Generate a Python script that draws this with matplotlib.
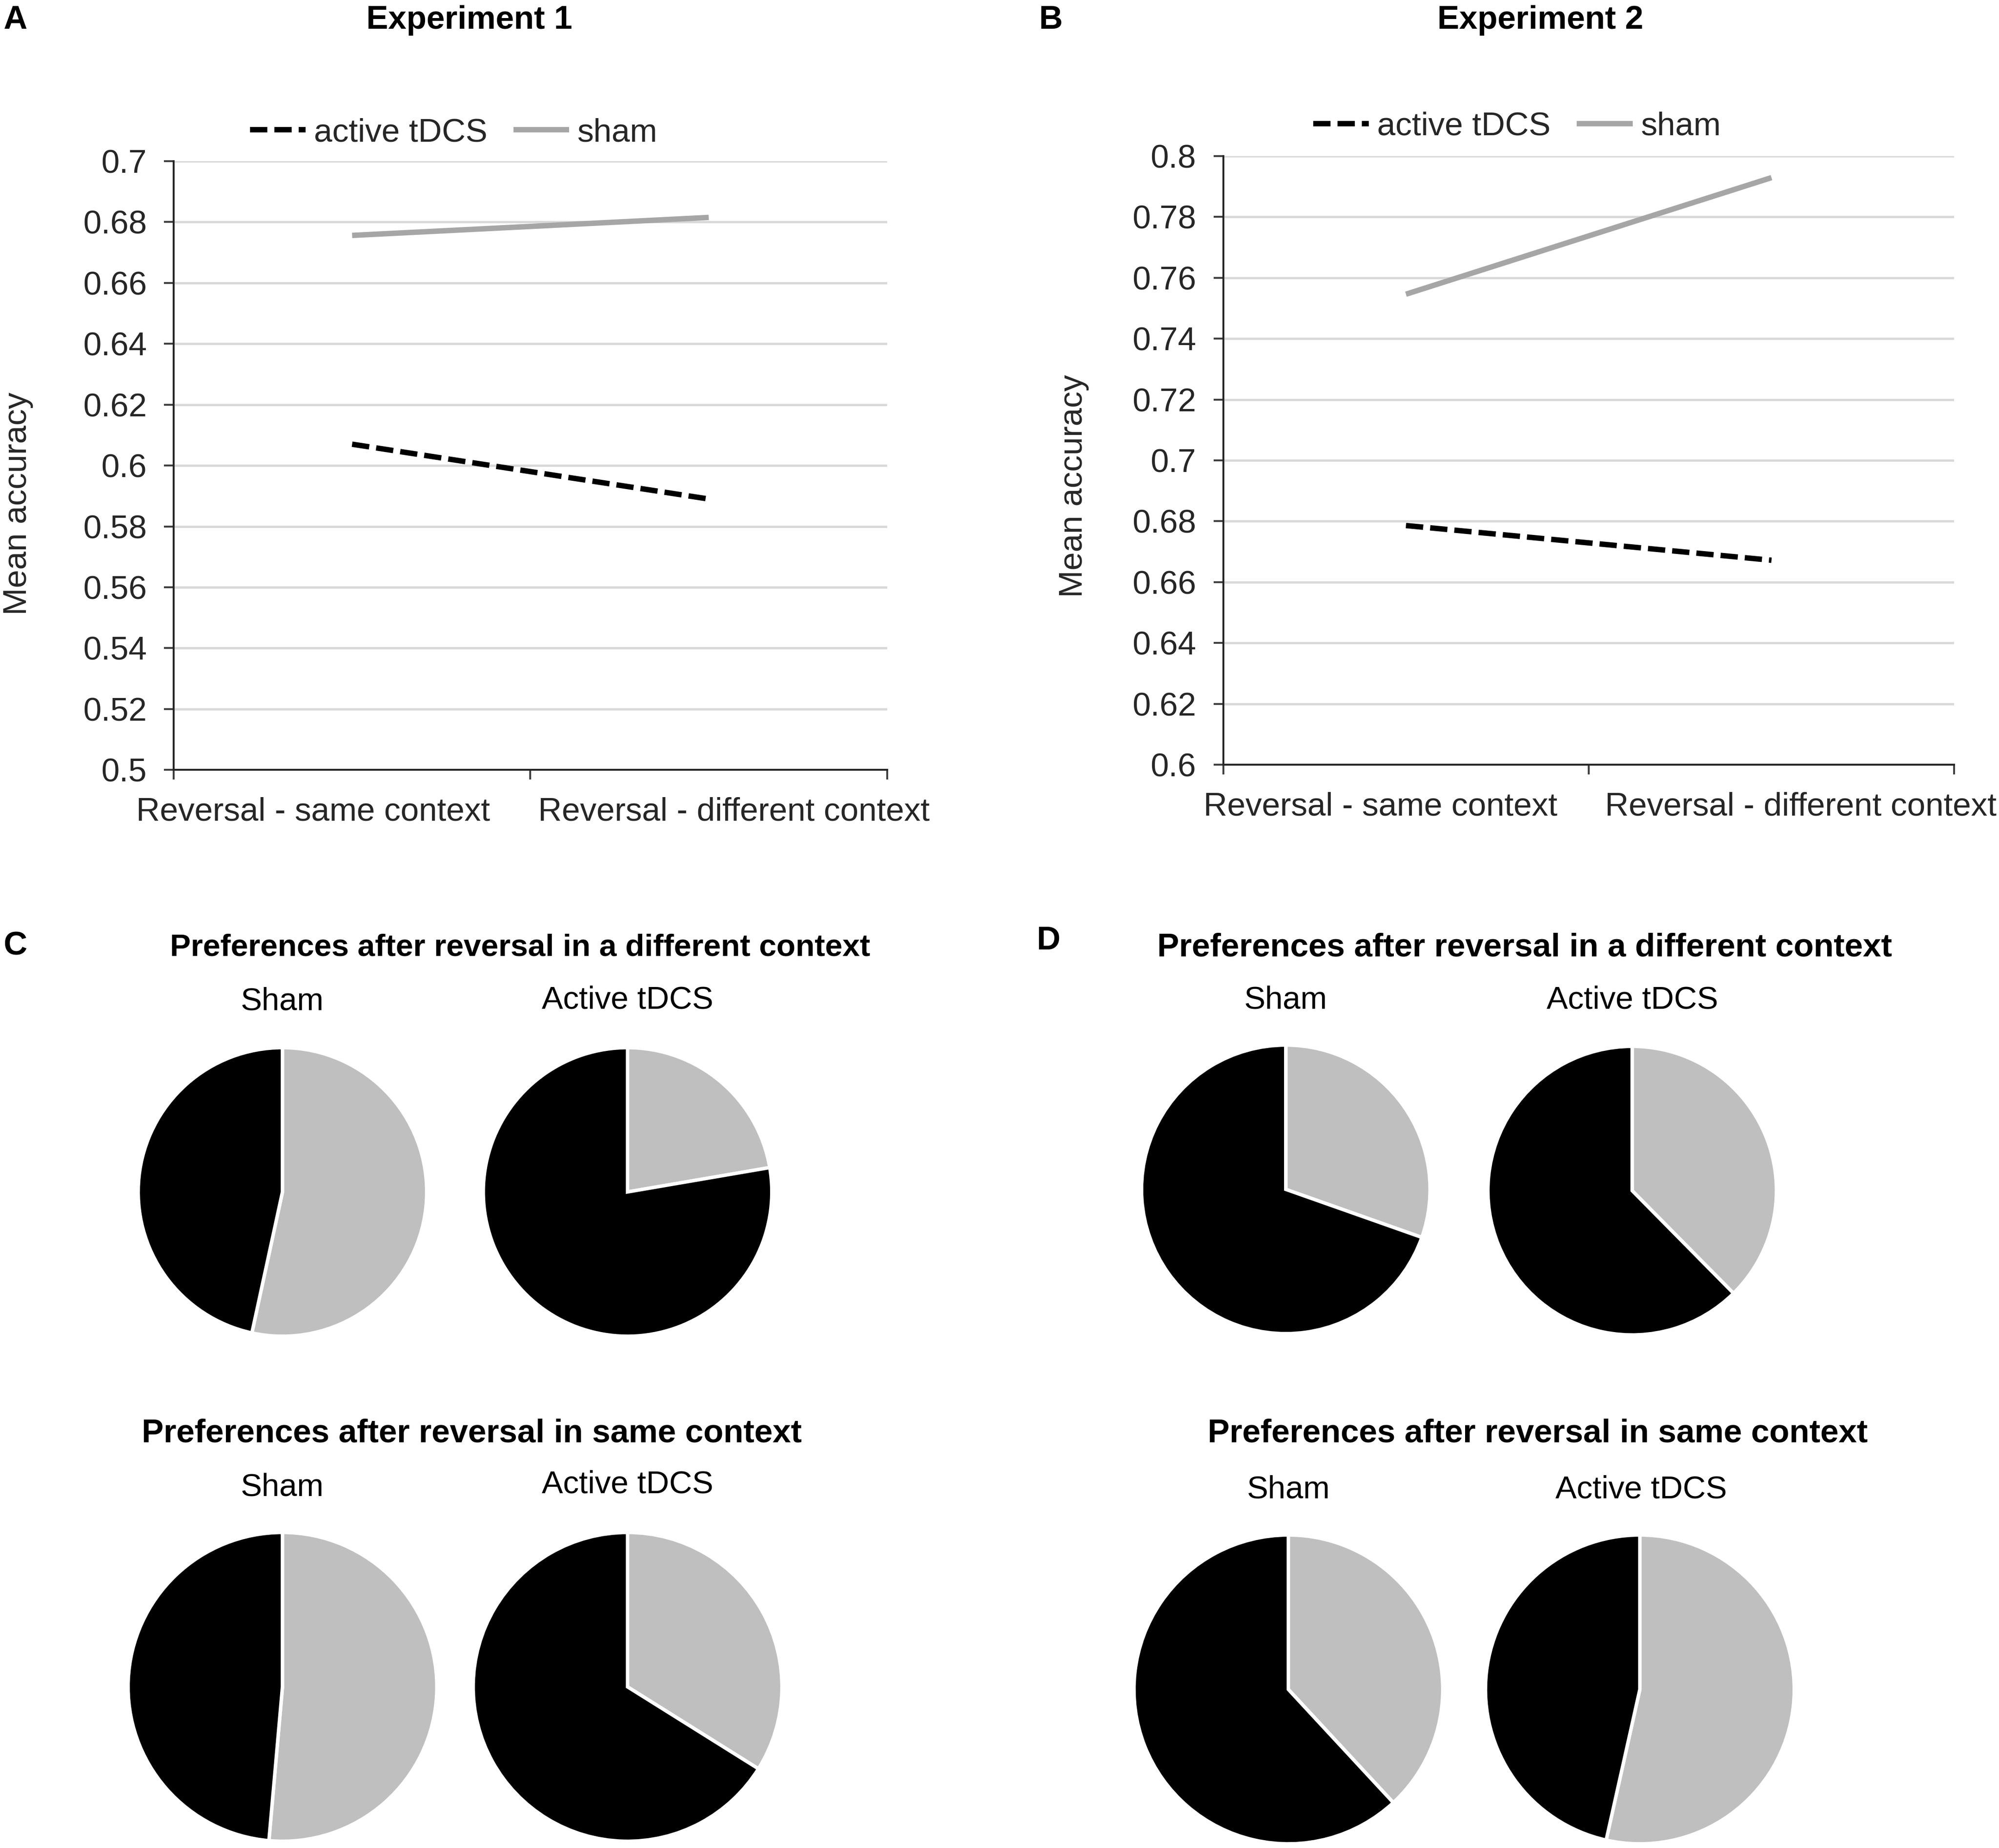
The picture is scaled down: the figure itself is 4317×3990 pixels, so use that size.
import matplotlib
matplotlib.use("Agg")
import matplotlib.pyplot as plt

plt.rcParams['font.family'] = ['Liberation Sans', 'DejaVu Sans']

# ---- line charts (panels A and B) ----
conditions = ["Reversal - same context", "Reversal - different context"]
exp1_active = [0.607, 0.589]
exp1_sham = [0.6756, 0.6815]
exp2_active = [0.6786, 0.6672]
exp2_sham = [0.7546, 0.7929]
exp1_yticks = [0.5, 0.52, 0.54, 0.56, 0.58, 0.6, 0.62, 0.64, 0.66, 0.68, 0.7]
exp2_yticks = [0.6, 0.62, 0.64, 0.66, 0.68, 0.7, 0.72, 0.74, 0.76, 0.78, 0.8]

# ---- pie charts (panels C and D): share of gray / black responses ----
pie_groups = ["Sham", "Active tDCS"]
exp1_diff_gray = [0.534, 0.223]
exp1_same_gray = [0.514, 0.339]
exp2_diff_gray = [0.304, 0.376]
exp2_same_gray = [0.381, 0.535]

GRAY = '#bfbfbf'
LINE_GRAY = '#a6a6a6'

W, H = 1564.0, 1445.0  # layout grid of the reference (scaled)


def fx(x):
    return x / W


def fy(y):
    return 1 - y / H


fig = plt.figure(figsize=(4317 / 300, 3990 / 300), dpi=300)


def line_panel(box, active, sham, yticks, legend_xy, ylabel_x, ylabel_y, lab_pos):
    left, top, right, bottom = box
    ax = fig.add_axes([fx(left), fy(bottom), (right - left) / W, (bottom - top) / H])
    x = list(range(len(conditions)))
    ax.plot(x, active, color='black', lw=2.8, dashes=(3.2, 1.3), label='active tDCS',
            solid_capstyle='butt', dash_capstyle='butt')
    ax.plot(x, sham, color=LINE_GRAY, lw=2.8, label='sham', solid_capstyle='butt')
    ax.set_xlim(-0.5, 1.5)
    ax.set_ylim(yticks[0], yticks[-1])
    ax.set_yticks(yticks)
    ax.set_yticklabels([f"{t:g}" for t in yticks])
    ax.yaxis.grid(True, color='#d9d9d9', lw=1.2)
    ax.set_axisbelow(True)
    ax.set_xticks([-0.5, 0.5, 1.5])
    ax.set_xticklabels([])
    ax.set_xticks(lab_pos, minor=True)
    ax.set_xticklabels(conditions, minor=True)
    ax.tick_params(axis='x', which='major', length=5, width=1.0, color='#404040')
    ax.tick_params(axis='x', which='minor', length=0, pad=14, labelsize=17, labelcolor='#262626')
    ax.tick_params(axis='y', length=5, width=1.0, color='#404040', pad=9,
                   labelsize=17, labelcolor='#262626')
    for s in ['top', 'right']:
        ax.spines[s].set_visible(False)
    for s in ['left', 'bottom']:
        ax.spines[s].set_color('#262626')
        ax.spines[s].set_linewidth(1.0)
    fig.text(fx(ylabel_x), fy(ylabel_y), 'Mean accuracy', rotation=90, ha='center',
             va='center', fontsize=17, color='#262626')
    ax.legend(loc='center', bbox_to_anchor=(fx(legend_xy[0]), fy(legend_xy[1])),
              bbox_transform=fig.transFigure, ncol=2, frameon=False, fontsize=17,
              handlelength=1.7, handletextpad=0.25, columnspacing=0.8, labelcolor='#262626')
    return ax


line_panel((136, 126, 694, 602), exp1_active, exp1_sham, exp1_yticks,
           (355, 104), 14, 394, [-0.11, 1.07])
line_panel((957, 122, 1529, 598), exp2_active, exp2_sham, exp2_yticks,
           (1187, 99), 840, 380, [-0.07, 1.08])

fig.text(fx(367), fy(16), 'Experiment 1', ha='center', va='center', fontsize=17, fontweight='bold')
fig.text(fx(1205), fy(16), 'Experiment 2', ha='center', va='center', fontsize=17, fontweight='bold')

for letter, (px, py) in zip("ABCD", [(12, 16), (822, 16), (12, 740), (820, 736)]):
    fig.text(fx(px), fy(py), letter, ha='center', va='center', fontsize=17, fontweight='bold')


def pie(cx, cy, r, gray_share):
    ax = fig.add_axes([fx(cx - r), fy(cy + r), 2 * r / W, 2 * r / H])
    ax.pie([gray_share, 1 - gray_share], colors=[GRAY, 'black'], startangle=90,
           counterclock=False, radius=1,
           wedgeprops=dict(edgecolor='white', linewidth=1.8))
    ax.set_xlim(-1.01, 1.01)
    ax.set_ylim(-1.01, 1.01)
    ax.set_aspect('equal')
    ax.axis('off')


# heading, heading size, heading centre, group label centres, pie centres/radii, shares
blocks = [
    ("Preferences after reversal in a different context", 16.2, (407, 741),
     [(221, 783), (491, 782)], [(221, 932, 114), (491, 932, 114)], exp1_diff_gray),
    ("Preferences after reversal in same context", 17, (369, 1121),
     [(221, 1163), (491, 1161)], [(221, 1319, 122), (491, 1319, 122)], exp1_same_gray),
    ("Preferences after reversal in a different context", 17, (1193, 741),
     [(1006, 782), (1277, 782)], [(1006, 930, 114), (1277, 931, 114)], exp2_diff_gray),
    ("Preferences after reversal in same context", 17, (1203, 1121),
     [(1008, 1165), (1284, 1165)], [(1008, 1321, 122), (1283, 1321, 122)], exp2_same_gray),
]

for heading, hsize, (hx, hy), labs, pies, shares in blocks:
    fig.text(fx(hx), fy(hy), heading, ha='center', va='center', fontsize=hsize, fontweight='bold')
    for name, (lx, ly) in zip(pie_groups, labs):
        fig.text(fx(lx), fy(ly), name, ha='center', va='center', fontsize=16.5)
    for (cx, cy, r), share in zip(pies, shares):
        pie(cx, cy, r, share)

fig.savefig('out.png', dpi=300, facecolor='white')
